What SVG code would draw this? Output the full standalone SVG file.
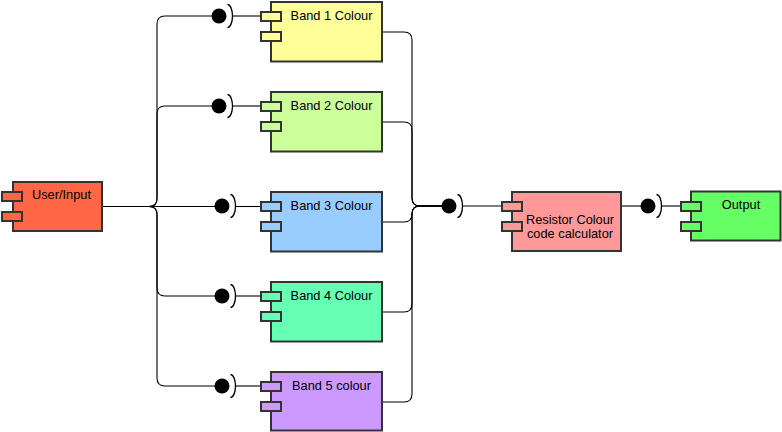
<svg xmlns="http://www.w3.org/2000/svg" width="782" height="432" viewBox="0 0 782 432">
  <defs>
    <style>
      .box { stroke: #333333; stroke-width: 2; }
      .port { stroke: #333333; stroke-width: 2; }
      .lbl { font-family: "Liberation Sans", Arial, sans-serif; font-size: 12.8px; fill: #000000; text-anchor: middle; }
      .wire { fill: none; stroke: #000000; stroke-width: 1.1; }
      .socket { fill: none; stroke: #000000; stroke-width: 1.3; }
    </style>
    <!-- provided/required interface: ball with a socket arc -->
    <g id="lollipop">
      <path class="socket" d="M 8.5 -11.5 A 5 11.5 0 0 1 8.5 11.5"/>
      <circle r="7.5" fill="#000000"/>
    </g>
  </defs>

  <rect width="782" height="432" fill="#ffffff"/>

  <g id="connectors">
    <!-- User/Input fan-out to the band interfaces -->
    <path class="wire" d="M102 206.5 H149 Q157 206.5 157 198.5 V24 Q157 16 165 16 H215"/>
    <path class="wire" d="M102 206.5 H149 Q157 206.5 157 198.5 V114 Q157 106 165 106 H215"/>
    <path class="wire" d="M102 206.5 H218"/>
    <path class="wire" d="M102 206.5 H149 Q157 206.5 157 214.5 V288 Q157 296 165 296 H218"/>
    <path class="wire" d="M102 206.5 H149 Q157 206.5 157 214.5 V378 Q157 386 165 386 H218"/>

    <!-- socket to component port -->
    <path class="wire" d="M232.5 16 H261"/>
    <path class="wire" d="M232.5 106 H261"/>
    <path class="wire" d="M235.5 206.5 H261"/>
    <path class="wire" d="M235.5 296 H261"/>
    <path class="wire" d="M235.5 386 H261"/>

    <!-- bands merge into the calculator interface -->
    <path class="wire" d="M382 32 H404 Q412 32 412 40 V198 Q412 206 420 206 H449"/>
    <path class="wire" d="M382 122 H404 Q412 122 412 130 V198 Q412 206 420 206 H449"/>
    <path class="wire" d="M382 222 H404 Q412 222 412 214 Q412 206 420 206 H449"/>
    <path class="wire" d="M382 312 H404 Q412 312 412 304 V214 Q412 206 420 206 H449"/>
    <path class="wire" d="M382 402 H404 Q412 402 412 394 V214 Q412 206 420 206 H449"/>
    <path class="wire" d="M462 206 H502"/>

    <!-- calculator to output -->
    <path class="wire" d="M621 206 H648"/>
    <path class="wire" d="M661 206 H681"/>

    <!-- interface symbols -->
    <use href="#lollipop" x="219" y="16"/>
    <use href="#lollipop" x="219" y="106"/>
    <use href="#lollipop" x="222" y="206"/>
    <use href="#lollipop" x="222" y="296"/>
    <use href="#lollipop" x="222" y="386"/>
    <use href="#lollipop" x="449" y="206"/>
    <use href="#lollipop" x="648" y="206"/>
  </g>

  <g id="user-input">
    <rect class="box" x="13" y="182" width="89" height="49" fill="#FF6645"/>
    <rect class="port" x="2" y="192" width="20" height="9" fill="#FF6645"/>
    <rect class="port" x="2" y="212" width="20" height="9" fill="#FF6645"/>
    <text class="lbl" x="61.5" y="199">User/Input</text>
  </g>

  <g id="band-1">
    <rect class="box" x="271" y="2" width="111" height="59.5" fill="#FFFF99"/>
    <rect class="port" x="261" y="12" width="20" height="9" fill="#FFFF99"/>
    <rect class="port" x="261" y="32" width="20" height="9" fill="#FFFF99"/>
    <text class="lbl" x="331.5" y="20">Band 1 Colour</text>
  </g>

  <g id="band-2">
    <rect class="box" x="271" y="92" width="111" height="59.5" fill="#CCFF99"/>
    <rect class="port" x="261" y="102" width="20" height="9" fill="#CCFF99"/>
    <rect class="port" x="261" y="122" width="20" height="9" fill="#CCFF99"/>
    <text class="lbl" x="331.5" y="110">Band 2 Colour</text>
  </g>

  <g id="band-3">
    <rect class="box" x="271" y="192" width="111" height="59.5" fill="#99CCFF"/>
    <rect class="port" x="261" y="202" width="20" height="9" fill="#99CCFF"/>
    <rect class="port" x="261" y="222" width="20" height="9" fill="#99CCFF"/>
    <text class="lbl" x="331.5" y="210">Band 3 Colour</text>
  </g>

  <g id="band-4">
    <rect class="box" x="271" y="282" width="111" height="59.5" fill="#66FFB3"/>
    <rect class="port" x="261" y="292" width="20" height="9" fill="#66FFB3"/>
    <rect class="port" x="261" y="312" width="20" height="9" fill="#66FFB3"/>
    <text class="lbl" x="331.5" y="300">Band 4 Colour</text>
  </g>

  <g id="band-5">
    <rect class="box" x="271" y="372" width="111" height="58.5" fill="#CC99FF"/>
    <rect class="port" x="261" y="382" width="20" height="9" fill="#CC99FF"/>
    <rect class="port" x="261" y="402" width="20" height="9" fill="#CC99FF"/>
    <text class="lbl" x="331.5" y="390">Band 5 colour</text>
  </g>

  <g id="calculator">
    <rect class="box" x="512" y="192" width="109" height="59" fill="#FF9999"/>
    <rect class="port" x="502" y="202" width="20" height="9" fill="#FF9999"/>
    <rect class="port" x="502" y="222" width="20" height="9" fill="#FF9999"/>
    <text class="lbl" x="570" y="223.5">Resistor Colour</text>
    <text class="lbl" x="570" y="237.5">code calculator</text>
  </g>

  <g id="output">
    <rect class="box" x="691" y="191.5" width="89.5" height="49" fill="#66FF66"/>
    <rect class="port" x="681" y="202" width="20" height="9" fill="#66FF66"/>
    <rect class="port" x="681" y="222" width="20" height="9" fill="#66FF66"/>
    <text class="lbl" x="741" y="208.5">Output</text>
  </g>
</svg>
